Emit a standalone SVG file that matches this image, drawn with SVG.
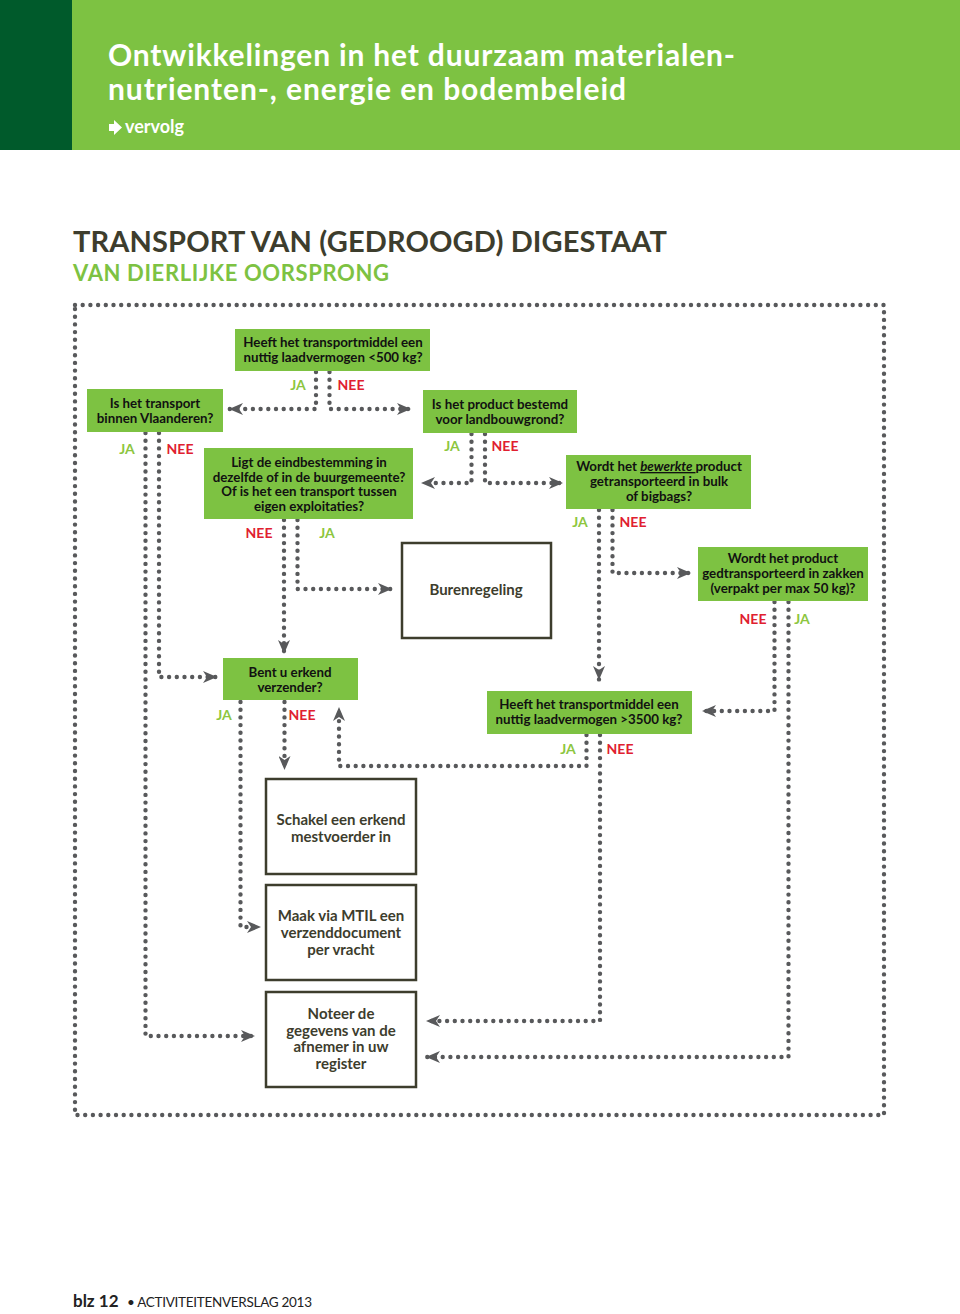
<svg xmlns="http://www.w3.org/2000/svg" width="960" height="1314" viewBox="0 0 960 1314">
<style>
.q{fill:#7dc242}
.qt{font-family:Lato,"Liberation Sans",sans-serif;font-weight:bold;font-size:13.3px;fill:#111;text-anchor:middle}
.b{fill:#fff;stroke:#3d3d2d;stroke-width:2.5}
.bt{font-family:Lato,"Liberation Sans",sans-serif;font-weight:bold;font-size:15px;fill:#3d3d2d;text-anchor:middle}
.ja{font-family:Lato,"Liberation Sans",sans-serif;font-weight:bold;font-size:14px;fill:#8dc63f;text-anchor:middle}
.nee{font-family:Lato,"Liberation Sans",sans-serif;font-weight:bold;font-size:14px;fill:#e0202f;text-anchor:middle}
.d{fill:none;stroke:#58595b;stroke-width:4.4;stroke-linecap:round;stroke-dasharray:0 7.7}
.a{marker-end:url(#arr)}
</style>
<defs>
<marker id="arr" viewBox="0 0 14 12" markerWidth="14" markerHeight="12" refX="14" refY="6" orient="auto" markerUnits="userSpaceOnUse">
<path d="M0,0 L14,6 L0,12 L4,6 Z" fill="#58595b"/>
</marker>
</defs>
<rect width="960" height="1314" fill="#fff"/>
<g id="header">
<rect x="0" y="0" width="960" height="150" fill="#7dc242"/>
<rect x="0" y="0" width="72" height="150" fill="#005a2b"/>
<text x="108" y="66" font-family="Lato,'Liberation Sans',sans-serif" font-weight="bold" font-size="30" fill="#fff" textLength="627">Ontwikkelingen in het duurzaam materialen-</text>
<text x="108" y="100" font-family="Lato,'Liberation Sans',sans-serif" font-weight="bold" font-size="30" fill="#fff" textLength="518">nutrienten-, energie en bodembeleid</text>
<path d="M109,124 h5 v-4 l8,7.5 l-8,7.5 v-4 h-5 z" fill="#fff"/>
<text x="125" y="133" font-family="Lato,'Liberation Sans',sans-serif" font-weight="bold" font-size="18" fill="#fff">vervolg</text>
</g>
<g id="title">
<text x="73" y="252" font-family="Lato,'Liberation Sans',sans-serif" font-weight="bold" font-size="29" fill="#3d3d2d" textLength="594">TRANSPORT VAN (GEDROOGD) DIGESTAAT</text>
<text x="73" y="281" font-family="Lato,'Liberation Sans',sans-serif" font-weight="bold" font-size="22" fill="#7dc242" textLength="316">VAN DIERLIJKE OORSPRONG</text>
</g>
<g id="frame">
<rect x="75" y="305" width="809" height="810" class="d"/>
</g>
<g id="connectors">
<path class="d a" d="M316,372 V409 H229"/>
<path class="d a" d="M329.5,372 V409 H411"/>
<path class="d a" d="M145.5,433 V1036 H255"/>
<path class="d a" d="M159,433 V677 H217"/>
<path class="d a" d="M471.5,434 V483 H421"/>
<path class="d a" d="M485,434 V483 H563"/>
<path class="d a" d="M284,520 V654"/>
<path class="d a" d="M297.5,520 V589 H392"/>
<path class="d a" d="M599,510 V680"/>
<path class="d a" d="M612.5,510 V573 H691"/>
<path class="d a" d="M774.5,602 V711 H702"/>
<path class="d a" d="M788.5,602 V1057 H426"/>
<path class="d a" d="M586.5,735 V766 H339 V707"/>
<path class="d a" d="M600,735 V1021 H426"/>
<path class="d a" d="M240.5,702 V927 H261"/>
<path class="d a" d="M284.5,702 V770"/>
</g>
<g id="q500">
<rect class="q" x="235" y="329" width="195" height="42"/>
<text class="qt" x="333" y="347">Heeft het transportmiddel een</text>
<text class="qt" x="333" y="362">nuttig laadvermogen &lt;500 kg?</text>
<text class="ja" x="298" y="390">JA</text>
<text class="nee" x="351" y="390">NEE</text>
</g>
<g id="qvlaanderen">
<rect class="q" x="87" y="389" width="136" height="43"/>
<text class="qt" x="155" y="408">Is het transport</text>
<text class="qt" x="155" y="423">binnen Vlaanderen?</text>
<text class="ja" x="127" y="454">JA</text>
<text class="nee" x="180" y="454">NEE</text>
</g>
<g id="qlandbouw">
<rect class="q" x="423" y="390" width="154" height="43"/>
<text class="qt" x="500" y="409">Is het product bestemd</text>
<text class="qt" x="500" y="424">voor landbouwgrond?</text>
<text class="ja" x="452" y="451">JA</text>
<text class="nee" x="505" y="451">NEE</text>
</g>
<g id="qeindbestemming">
<rect class="q" x="204" y="448" width="209" height="71"/>
<text class="qt" x="309" y="467">Ligt de eindbestemming in</text>
<text class="qt" x="309" y="481.5">dezelfde of in de buurgemeente?</text>
<text class="qt" x="309" y="496">Of is het een transport tussen</text>
<text class="qt" x="309" y="510.5">eigen exploitaties?</text>
<text class="nee" x="259" y="538">NEE</text>
<text class="ja" x="327" y="538">JA</text>
</g>
<g id="qbulk">
<rect class="q" x="566" y="455" width="185" height="54"/>
<text class="qt" x="659" y="471">Wordt het <tspan font-style="italic" text-decoration="underline">bewerkte </tspan>product</text>
<text class="qt" x="659" y="486">getransporteerd in bulk</text>
<text class="qt" x="659" y="500.5">of bigbags?</text>
<text class="ja" x="580" y="527">JA</text>
<text class="nee" x="633" y="527">NEE</text>
</g>
<g id="qzakken">
<rect class="q" x="698" y="547" width="170" height="54"/>
<text class="qt" x="783" y="563">Wordt het product</text>
<text class="qt" x="783" y="578">gedtransporteerd in zakken</text>
<text class="qt" x="783" y="592.5">(verpakt per max 50 kg)?</text>
<text class="nee" x="753" y="624">NEE</text>
<text class="ja" x="802" y="624">JA</text>
</g>
<g id="burenregeling">
<rect class="b" x="402" y="543" width="149" height="95"/>
<text class="bt" x="476" y="595">Burenregeling</text>
</g>
<g id="qerkend">
<rect class="q" x="223" y="658" width="135" height="42"/>
<text class="qt" x="290" y="676.5">Bent u erkend</text>
<text class="qt" x="290" y="691.5">verzender?</text>
<text class="ja" x="224" y="720">JA</text>
<text class="nee" x="302" y="720">NEE</text>
</g>
<g id="q3500">
<rect class="q" x="487" y="691" width="205" height="43"/>
<text class="qt" x="589" y="708.5">Heeft het transportmiddel een</text>
<text class="qt" x="589" y="723.5">nuttig laadvermogen &gt;3500 kg?</text>
<text class="ja" x="568" y="754">JA</text>
<text class="nee" x="620" y="754">NEE</text>
</g>
<g id="schakel">
<rect class="b" x="266" y="779" width="150" height="95"/>
<text class="bt" x="341" y="825">Schakel een erkend</text>
<text class="bt" x="341" y="842">mestvoerder in</text>
</g>
<g id="mtil">
<rect class="b" x="266" y="885" width="150" height="95"/>
<text class="bt" x="341" y="921">Maak via MTIL een</text>
<text class="bt" x="341" y="938">verzenddocument</text>
<text class="bt" x="341" y="955">per vracht</text>
</g>
<g id="noteer">
<rect class="b" x="266" y="992" width="150" height="95"/>
<text class="bt" x="341" y="1019">Noteer de</text>
<text class="bt" x="341" y="1036">gegevens van de</text>
<text class="bt" x="341" y="1052">afnemer in uw</text>
<text class="bt" x="341" y="1069">register</text>
</g>
<g id="footer">
<text x="73" y="1307" font-family="Lato,'Liberation Sans',sans-serif" font-weight="bold" font-size="17" fill="#222">blz 12</text>
<text x="127" y="1307" font-family="Lato,'Liberation Sans',sans-serif" font-size="13.5" fill="#222" textLength="185">• ACTIVITEITENVERSLAG 2013</text>
</g>
</svg>
